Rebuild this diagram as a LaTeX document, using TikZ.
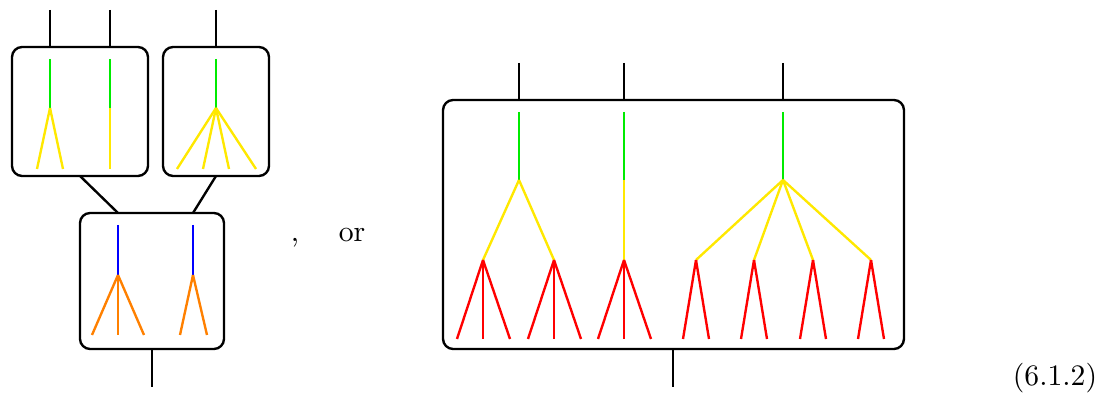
\documentclass[tikz,border=0pt]{standalone}
\usetikzlibrary{calc}
\definecolor{cgreen}{RGB}{0,235,0}
\definecolor{cyellow}{RGB}{255,232,0}
\definecolor{corange}{RGB}{255,128,0}
\definecolor{cred}{RGB}{255,0,0}
\definecolor{cblue}{RGB}{0,0,255}
\begin{document}
\begin{tikzpicture}[x=0.3367pt,y=-0.3367pt,
  blk/.style={line width=0.8pt,black},
  boxn/.style={draw,line width=0.8pt,rounded corners=3.4pt,inner sep=0pt,outer sep=0pt},
  gr/.style={line width=0.8pt,cgreen},
  ye/.style={line width=0.8pt,cyellow},
  og/.style={line width=0.8pt,corange},
  rd/.style={line width=0.8pt,cred},
  bl/.style={line width=0.8pt,cblue},
  lbl/.style={inner sep=0pt,anchor=base}]
\useasboundingbox (0,0) rectangle (1106,394);
% boxes
\node[boxn,minimum width=45.79pt,minimum height=43.43pt] (b1) at (80,111.5) {};
\node[boxn,minimum width=35.69pt,minimum height=43.43pt] (b2) at (216,111.5) {};
\node[boxn,minimum width=48.48pt,minimum height=45.79pt] (b3) at (152,281) {};
\node[boxn,minimum width=155.2pt,minimum height=83.84pt] (B) at (673.5,224.5) {};
% top stubs
\coordinate (t1) at (50,10);
\coordinate (t2) at (110,10);
\coordinate (t3) at (216,10);
\coordinate (T1) at (519,63);
\coordinate (T2) at (624,63);
\coordinate (T3) at (783,63);
\coordinate (bo) at (152,387);
\coordinate (BO) at (673,387);
\draw[blk] (t1) -- (t1 |- b1.north);
\draw[blk] (t2) -- (t2 |- b1.north);
\draw[blk] (t3) -- (b2.north);
\draw[blk] (T1) -- (T1 |- B.north);
\draw[blk] (T2) -- (T2 |- B.north);
\draw[blk] (T3) -- (T3 |- B.north);
\draw[blk] (b3.south) -- (bo);
\draw[blk] (BO |- B.south) -- (BO);
% box 1 contents
\coordinate (g1) at (50,59); \coordinate (r1) at (50,108);
\coordinate (g2) at (110,59); \coordinate (r2) at (110,108);
\draw[gr] (g1) -- (r1);
\draw[gr] (g2) -- (r2);
\draw[ye] (r1) -- (37,169);
\draw[ye] (r1) -- (63,169);
\draw[ye] (r2) -- (110,169);
% box 2 contents
\coordinate (g3) at (216,59); \coordinate (r3) at (216,108);
\draw[gr] (g3) -- (r3);
\foreach \x in {177,203,229,256} \draw[ye] (r3) -- (\x,169);
% box 3 contents
\coordinate (s1) at (118,225); \coordinate (q1) at (118,275);
\coordinate (s2) at (193,225); \coordinate (q2) at (193,275);
\draw[bl] (s1) -- (q1);
\draw[bl] (s2) -- (q2);
\foreach \x in {92,118,144} \draw[og] (q1) -- (\x,335);
\foreach \x in {180,207} \draw[og] (q2) -- (\x,335);
% connectors between boxes
\draw[blk] (b1.south) -- (b3.north -| s1);
\draw[blk] (b2.south) -- (b3.north -| s2);
% big box contents
\coordinate (G1) at (519,112); \coordinate (R1) at (519,180);
\coordinate (G2) at (624,112); \coordinate (R2) at (624,180);
\coordinate (G3) at (783,112); \coordinate (R3) at (783,180);
\draw[gr] (G1) -- (R1);
\draw[gr] (G2) -- (R2);
\draw[gr] (G3) -- (R3);
\coordinate (a1) at (483,260);
\coordinate (a2) at (554,260);
\coordinate (a3) at (624,260);
\coordinate (a4) at (696,260);
\coordinate (a5) at (754,260);
\coordinate (a6) at (813,260);
\coordinate (a7) at (871,260);
\draw[ye] (R1) -- (a1);
\draw[ye] (R1) -- (a2);
\draw[ye] (R2) -- (a3);
\foreach \n in {a4,a5,a6,a7} \draw[ye] (R3) -- (\n);
\foreach \d in {-26,0,27} {
  \draw[rd] (a1) -- ($(a1)+(\d,79)$);
  \draw[rd] (a2) -- ($(a2)+(\d,79)$);
  \draw[rd] (a3) -- ($(a3)+(\d,79)$);
}
\foreach \n in {a4,a5,a6,a7} {
  \draw[rd] (\n) -- ($(\n)+(-13,79)$);
  \draw[rd] (\n) -- ($(\n)+(13,79)$);
}
% texts
\node[lbl] (comma) at (295,242) {,};
\node[lbl] (or) at (352,242) {or};
\node[lbl] (eq) at (1055,386) {(6.1.2)};
\end{tikzpicture}
\end{document}
